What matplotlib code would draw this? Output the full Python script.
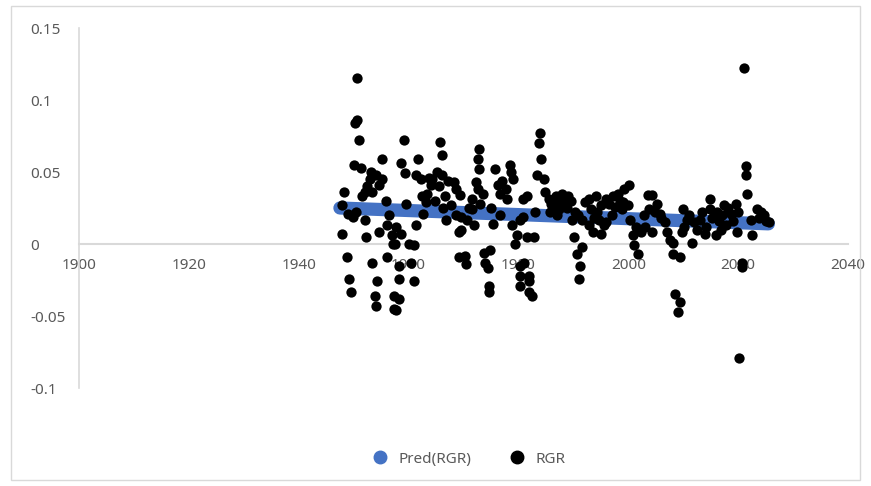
import matplotlib.pyplot as plt
from matplotlib.patches import Rectangle

rgr_year = [
    # late 1940s / 1950s
    1950.7, 1950.7, 1950.3, 1951.0, 1950.0, 1951.4, 1955.2, 1953.2, 1952.9, 1955.2,
    1954.7, 1948.3, 1952.0, 1951.6, 1953.4, 1947.9, 1948.9, 1949.8, 1952.0, 1947.8,
    1952.3, 1954.7, 1956.0, 1956.9, 1957.1, 1948.7, 1953.4, 1956.1, 1949.2, 1949.6,
    1954.3, 1953.8, 1954.1, 1957.4, 1957.4, 1952.5, 1954.0, 1955.8, 1950.5, 1956.5,
    # 1958-1969
    1959.1, 1965.8, 1966.0, 1958.7, 1959.4, 1961.8, 1961.4, 1962.2, 1965.1, 1966.0,
    1964.2, 1964.0, 1963.3, 1968.2, 1968.6, 1966.7, 1959.6, 1963.1, 1967.8, 1962.7,
    1966.9, 1968.7, 1961.3, 1957.8, 1958.7, 1960.0, 1960.9, 1969.1, 1957.6, 1958.2,
    1960.5, 1958.2, 1960.9, 1969.1, 1958.2, 1957.8, 1963.8, 1965.5, 1967.2, 1962.5,
    1964.8, 1966.2,
    # 1969-1981
    1972.9, 1972.6, 1972.9, 1975.7, 1978.4, 1978.6, 1972.2, 1972.6, 1973.5, 1976.2,
    1976.7, 1977.7, 1978.0, 1971.6, 1980.8, 1969.3, 1971.6, 1970.7, 1969.5, 1969.5,
    1976.7, 1975.3, 1978.9, 1980.2, 1979.8, 1979.3, 1970.2, 1970.4, 1973.8, 1974.9,
    1974.0, 1974.4, 1974.7, 1974.7, 1980.2, 1980.2, 1980.2, 1971.0, 1973.0, 1977.0,
    1979.0, 1975.0, 1972.0,
    # 1981-1992
    1983.9, 1983.7, 1984.2, 1983.3, 1984.6, 1984.8, 1985.5, 1981.5, 1987.9, 1989.1,
    1986.6, 1987.0, 1983.0, 1980.9, 1989.7, 1992.1, 1991.5, 1990.1, 1981.5, 1982.8,
    1991.5, 1990.6, 1981.1, 1982.0, 1991.2, 1991.0, 1982.0, 1982.4, 1981.9, 1986.0,
    1986.8, 1987.5, 1988.3, 1988.8, 1989.5, 1990.3, 1990.8, 1985.8, 1987.3,
    # 1992-2004
    2000.1, 1999.2, 1998.1, 1997.2, 1995.9, 1994.1, 1992.8, 1993.2, 1995.0, 1999.0,
    1999.9, 2003.5, 2003.7, 1992.8, 1994.6, 1995.5, 1993.5, 1995.0, 2000.4, 2001.4,
    2002.3, 2000.8, 2001.0, 2001.7, 1993.8, 1994.3, 1996.5, 1997.5, 1998.5, 1996.0,
    1997.0, 1998.8, 2002.8, 2003.0,
    # 2004-2015
    2004.3, 2005.2, 2005.7, 2006.6, 2007.0, 2007.6, 2008.1, 2009.9, 2010.7, 2009.7,
    2011.6, 2012.5, 2013.0, 2014.8, 2014.8, 2013.9, 2004.3, 2008.1, 2009.4, 2008.5,
    2009.4, 2009.0, 2004.8, 2006.0, 2010.2, 2011.0, 2012.0, 2013.5, 2014.2,
    # 2015-2026
    2021.0, 2021.4, 2021.4, 2021.6, 2017.4, 2019.6, 2016.1, 2018.7, 2023.4, 2024.7,
    2025.6, 2022.3, 2016.9, 2019.8, 2022.5, 2015.9, 2020.7, 2020.7, 2020.1, 2015.2,
    2016.5, 2017.8, 2018.2, 2019.0, 2020.0, 2017.0, 2023.8, 2024.2, 2025.0,
]
rgr_value = [
    0.115, 0.086, 0.084, 0.072, 0.055, 0.053, 0.059, 0.050, 0.045, 0.045,
    0.041, 0.036, 0.036, 0.033, 0.036, 0.027, 0.021, 0.019, 0.017, 0.007,
    0.005, 0.008, 0.013, 0.006, 0.000, -0.009, -0.013, -0.009, -0.024, -0.033,
    -0.026, -0.036, -0.043, -0.036, -0.045, 0.040, 0.048, 0.030, 0.022, 0.020,
    0.072, 0.071, 0.062, 0.056, 0.049, 0.059, 0.048, 0.045, 0.050, 0.048,
    0.045, 0.041, 0.035, 0.043, 0.038, 0.033, 0.028, 0.029, 0.027, 0.021,
    0.017, 0.020, 0.013, 0.012, 0.007, 0.000, -0.001, 0.008, 0.000, -0.015,
    -0.013, -0.024, -0.026, -0.009, -0.038, -0.046, 0.046, 0.040, 0.044, 0.033,
    0.030, 0.025,
    0.066, 0.059, 0.052, 0.052, 0.055, 0.050, 0.043, 0.038, 0.035, 0.041,
    0.035, 0.038, 0.031, 0.031, 0.031, 0.034, 0.024, 0.017, 0.019, 0.010,
    0.020, 0.014, 0.013, 0.017, 0.006, 0.000, -0.008, -0.014, -0.006, -0.004,
    -0.013, -0.017, -0.029, -0.033, -0.015, -0.022, -0.029, 0.025, 0.028, 0.044,
    0.045, 0.025, 0.013,
    0.077, 0.070, 0.059, 0.048, 0.045, 0.036, 0.031, 0.033, 0.035, 0.033,
    0.027, 0.020, 0.022, 0.019, 0.017, 0.029, 0.017, 0.005, 0.005, 0.005,
    -0.002, -0.007, -0.013, -0.022, -0.015, -0.024, -0.033, -0.036, -0.026, 0.028,
    0.033, 0.030, 0.028, 0.025, 0.030, 0.022, 0.020, 0.022, 0.024,
    0.041, 0.038, 0.035, 0.033, 0.031, 0.033, 0.031, 0.024, 0.027, 0.029,
    0.027, 0.034, 0.024, 0.013, 0.017, 0.013, 0.008, 0.007, 0.017, 0.012,
    0.008, 0.006, -0.001, -0.007, 0.018, 0.022, 0.028, 0.026, 0.030, 0.015,
    0.020, 0.024, 0.020, 0.012,
    0.034, 0.028, 0.021, 0.015, 0.008, 0.003, 0.001, 0.024, 0.017, 0.008,
    0.001, 0.010, 0.017, 0.031, 0.024, 0.007, 0.008, -0.007, -0.009, -0.035,
    -0.040, -0.047, 0.022, 0.018, 0.012, 0.020, 0.015, 0.022, 0.012,
    0.122, 0.054, 0.048, 0.035, 0.027, 0.028, 0.022, 0.021, 0.024, 0.020,
    0.015, 0.017, 0.010, 0.008, 0.006, 0.006, -0.013, -0.016, -0.079, 0.018,
    0.016, 0.013, 0.025, 0.016, 0.022, 0.020, 0.018, 0.022, 0.016,
]

# fitted trend (Pred(RGR)) end points
pred_year = [1947.5, 2025.5]
pred_value = [0.025, 0.014]

x_ticks = [1900, 1920, 1940, 1960, 1980, 2000, 2020, 2040]
y_ticks = [-0.1, -0.05, 0, 0.05, 0.1, 0.15]
y_labels = ["-0.1", "-0.05", "0", "0.05", "0.1", "0.15"]

plt.rcParams['font.family'] = ['Noto Sans', 'DejaVu Sans']
grey = "#595959"
axis_grey = "#d9d9d9"

fig = plt.figure(figsize=(8.71, 4.86), dpi=100)
# chart area border
fig.patches.append(Rectangle((11 / 871, 6 / 486), 849 / 871, 474 / 486,
                             transform=fig.transFigure, fill=False,
                             edgecolor="#d9d9d9", linewidth=1))

ax = fig.add_axes([79 / 871, 1 - 388 / 486, (848 - 79) / 871, (388 - 28) / 486])

ax.plot(pred_year, pred_value, color="#4472C4", linewidth=9.5,
        solid_capstyle="round", zorder=2, label="Pred(RGR)")
ax.scatter(rgr_year, rgr_value, s=55, color="black", zorder=3, label="RGR",
           linewidths=0)

ax.set_xlim(1900, 2040)
ax.set_ylim(-0.1, 0.15)
ax.set_xticks(x_ticks)
ax.set_yticks(y_ticks)
ax.set_yticklabels(y_labels)

for side in ["top", "right"]:
    ax.spines[side].set_visible(False)
ax.spines["bottom"].set_position(("data", 0))
ax.spines["bottom"].set_color(axis_grey)
ax.spines["bottom"].set_linewidth(1.5)
ax.spines["left"].set_color(axis_grey)
ax.spines["left"].set_linewidth(1.2)
ax.set_axisbelow(True)

ax.tick_params(axis="x", length=0, pad=10, labelsize=11, labelcolor=grey)
ax.tick_params(axis="y", length=0, pad=35, labelsize=11, labelcolor=grey)
for lbl in ax.get_yticklabels():
    lbl.set_horizontalalignment("left")

handles = [
    plt.Line2D([], [], marker="o", linestyle="", color="#4472C4", markersize=9),
    plt.Line2D([], [], marker="o", linestyle="", color="black", markersize=9),
]
fig.legend(handles, ["Pred(RGR)", "RGR"], loc="center",
           bbox_to_anchor=(0.534, 1 - 459 / 486), ncol=2, frameon=False,
           fontsize=11, labelcolor=grey, handletextpad=0.2, columnspacing=2.0)

plt.savefig("out.png", dpi=100)
